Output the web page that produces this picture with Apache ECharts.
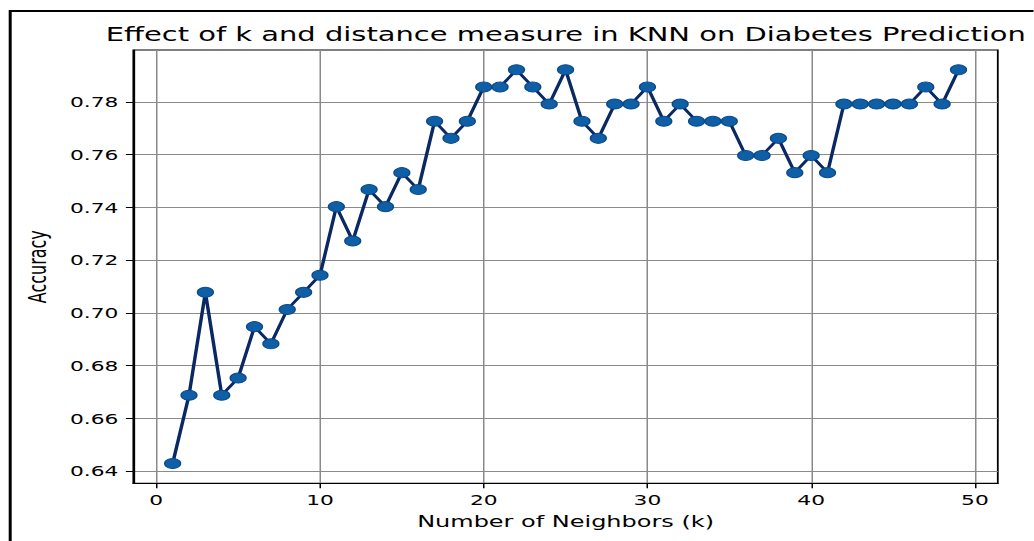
<!DOCTYPE html>
<html>
<head>
<meta charset="utf-8">
<script src="https://cdn.jsdelivr.net/npm/echarts@6/dist/echarts.min.js"></script>
<style>
  html, body { margin: 0; padding: 0; background: #fff; overflow: hidden; }
  #wrap { width: 1034px; height: 541px; overflow: hidden; position: relative; }
  #chart { width: 689.33px; height: 541px; transform: scaleX(1.5); transform-origin: 0 0; position: absolute; left: 0; top: 0; }
</style>
</head>
<body>
<div id="wrap"><div id="chart"></div></div>
<script>
// ---- data ----
const titleText = 'Effect of k and distance measure in KNN on Diabetes Prediction';
const xName = 'Number of Neighbors (k)';
const yName = 'Accuracy';
const kValues = [1,2,3,4,5,6,7,8,9,10,11,12,13,14,15,16,17,18,19,20,21,22,23,24,25,26,27,28,29,30,31,32,33,34,35,36,37,38,39,40,41,42,43,44,45,46,47,48,49];
const accuracy = [
  0.6429, 0.6688, 0.7078, 0.6688, 0.6753, 0.6948, 0.6883, 0.7013, 0.7078, 0.7143,
  0.7403, 0.7273, 0.7468, 0.7403, 0.7532, 0.7468, 0.7727, 0.7662, 0.7727, 0.7857,
  0.7857, 0.7922, 0.7857, 0.7792, 0.7922, 0.7727, 0.7662, 0.7792, 0.7792, 0.7857,
  0.7727, 0.7792, 0.7727, 0.7727, 0.7727, 0.7597, 0.7597, 0.7662, 0.7532, 0.7597,
  0.7532, 0.7792, 0.7792, 0.7792, 0.7792, 0.7792, 0.7857, 0.7792, 0.7922
];
const xTicks = [0, 10, 20, 30, 40, 50];
const yTicks = [0.64, 0.66, 0.68, 0.70, 0.72, 0.74, 0.76, 0.78];
const xRange = [-1.4, 51.4];
const yRange = [0.6354, 0.7997];

const chart = echarts.init(document.getElementById('chart'), null, { renderer: 'svg' });
const font = 'DejaVu Sans';
const gridColor = '#8a8a8a';

chart.setOption({
  animation: false,
  backgroundColor: '#fff',
  title: {
    text: titleText,
    left: 372.2,
    top: 20,
    textAlign: 'center',
    textStyle: { fontFamily: font, fontSize: 19.3, fontWeight: 'normal', color: '#000' }
  },
  graphic: [{
    type: 'rect',
    shape: { x: 6.8, y: 11, width: 800, height: 700 },
    style: { fill: 'none', stroke: '#000', lineWidth: 2 },
    silent: true, z: 100
  }],
  grid: {
    left: 88.9, right: 23.8, top: 50, bottom: 57.7,
    show: true, borderColor: '#000', borderWidth: 1.2, backgroundColor: 'transparent'
  },
  xAxis: {
    type: 'value',
    min: xRange[0], max: xRange[1],
    name: xName, nameLocation: 'middle', nameGap: 30,
    nameTextStyle: { fontFamily: font, fontSize: 16, color: '#000' },
    axisLine: { show: true, onZero: false, lineStyle: { color: '#000', width: 1.2 } },
    axisTick: { show: true, length: 5, customValues: xTicks, lineStyle: { color: '#000', width: 1 } },
    axisLabel: { customValues: xTicks, margin: 9, fontFamily: font, fontSize: 14.5, color: '#000' },
    splitLine: { show: true, lineStyle: { color: gridColor, width: 1 } }
  },
  yAxis: {
    type: 'value',
    min: yRange[0], max: yRange[1],
    name: yName, nameLocation: 'middle', nameGap: 56, nameRotate: 90,
    nameTextStyle: { fontFamily: font, fontSize: 16, color: '#000' },
    axisLine: { show: true, onZero: false, lineStyle: { color: '#000', width: 1.2 } },
    axisTick: { show: true, length: 5, customValues: yTicks, lineStyle: { color: '#000', width: 1 } },
    axisLabel: { customValues: yTicks, margin: 10, fontFamily: font, fontSize: 14.5, color: '#000',
      formatter: v => v.toFixed(2) },
    splitLine: { show: true, lineStyle: { color: gridColor, width: 1 } }
  },
  series: [{
    type: 'line',
    data: kValues.map((k, i) => [k, accuracy[i]]),
    symbol: 'circle',
    symbolSize: [10.5, 10],
    showAllSymbol: true,
    lineStyle: { color: '#0a2862', width: 2.3 },
    itemStyle: { color: '#0f5fa6', borderColor: '#0b4a8a', borderWidth: 1 },
    z: 3
  }]
});
</script>
</body>
</html>
